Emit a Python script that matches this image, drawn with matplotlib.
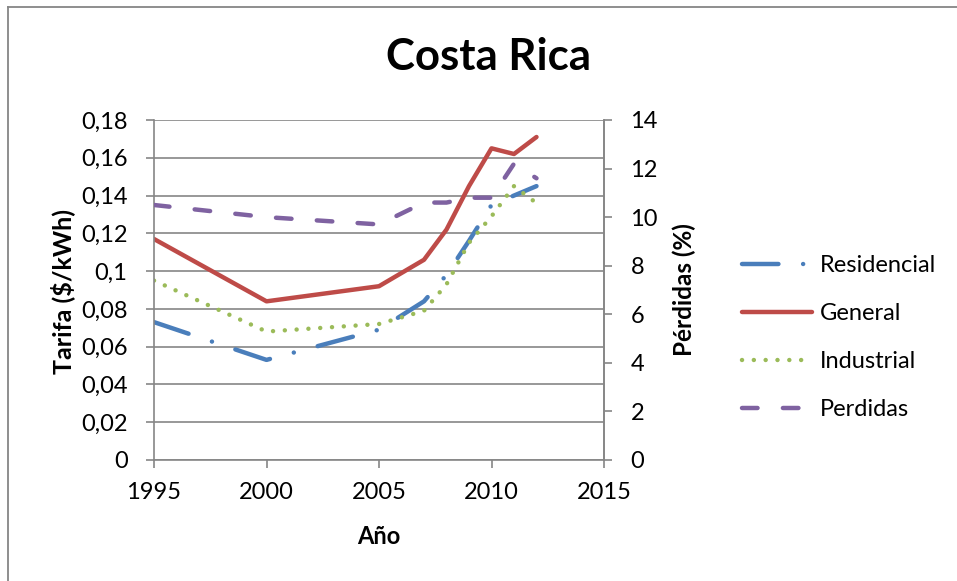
import matplotlib
matplotlib.use("Agg")
import matplotlib.pyplot as plt
from matplotlib.lines import Line2D

# Electricity tariffs ($/kWh) and grid losses (%) for Costa Rica
years = [1995, 2000, 2005, 2007, 2008, 2009, 2010, 2011, 2012]
residencial = [0.073, 0.053, 0.069, 0.084, 0.098, 0.116, 0.135, 0.140, 0.145]
general = [0.117, 0.084, 0.092, 0.106, 0.122, 0.145, 0.165, 0.162, 0.171]
industrial = [0.095, 0.068, 0.072, 0.079, 0.093, 0.115, 0.129, 0.145, 0.136]
perdidas = [10.5, 10.0, 9.7, 10.6, 10.6, 10.8, 10.8, 12.2, 11.6]

x_ticks = [1995, 2000, 2005, 2010, 2015]
tarifa_ticks = [0, 0.02, 0.04, 0.06, 0.08, 0.10, 0.12, 0.14, 0.16, 0.18]
tarifa_labels = ["0", "0,02", "0,04", "0,06", "0,08", "0,1", "0,12", "0,14", "0,16", "0,18"]
perdidas_ticks = [0, 2, 4, 6, 8, 10, 12, 14]

plt.rcParams['font.family'] = ['Lato', 'DejaVu Sans']

W, H = 957, 581
fig = plt.figure(figsize=(W / 100, H / 100), dpi=100)


def fx(px):
    return px / W


def fy(py):
    return 1 - py / H


GRAY = "#868686"
BLUE = "#4A7EBB"
RED = "#BE4B48"
GREEN = "#9BBB59"
PURPLE = "#7F62A1"
LW = 3.2
FS = 17

# outer chart frame
fig.add_artist(Line2D([fx(8), fx(8)], [fy(7), 0], color=GRAY, lw=1.3))
fig.add_artist(Line2D([fx(8), 1], [fy(7), fy(7)], color=GRAY, lw=1.3))

ax = fig.add_axes([fx(154), fy(460), fx(604) - fx(154), fy(120) - fy(460)])
ax2 = ax.twinx()

ax.set_xlim(1995, 2015)
ax.set_ylim(0, 0.18)
ax2.set_ylim(0, 14)

ax.set_xticks(x_ticks)
ax.set_xticklabels([str(v) for v in x_ticks])
ax.set_yticks(tarifa_ticks)
ax.set_yticklabels(tarifa_labels)
ax2.set_yticks(perdidas_ticks)
ax2.set_yticklabels([str(v) for v in perdidas_ticks])

ax.yaxis.grid(True, color=GRAY, lw=1.2)
ax.set_axisbelow(True)

for a in (ax, ax2):
    a.spines['top'].set_visible(False)
    for s in ('left', 'right', 'bottom'):
        a.spines[s].set_color(GRAY)
        a.spines[s].set_linewidth(1.2)
ax2.spines['left'].set_visible(False)
ax2.spines['bottom'].set_visible(False)

ax.tick_params(axis='y', direction='out', length=6, width=1.2, color=GRAY,
               labelsize=FS, pad=13)
ax.tick_params(axis='x', direction='out', length=6, width=1.2, color=GRAY,
               labelsize=FS, pad=10)
ax2.tick_params(axis='y', direction='out', length=6, width=1.2, color=GRAY,
                labelsize=FS, pad=13)

h1, = ax.plot(years, residencial, color=BLUE, lw=LW, label="Residencial",
              dashes=(8.2, 5.55, 0.01, 5.55), dash_capstyle='round',
              solid_joinstyle='round', dash_joinstyle='round')
h2, = ax.plot(years, general, color=RED, lw=LW, label="General",
              solid_capstyle='round', solid_joinstyle='round')
h3, = ax.plot(years, industrial, color=GREEN, lw=LW, label="Industrial",
              dashes=(0.01, 2.65), dash_capstyle='round', dash_joinstyle='round')
h4, = ax2.plot(years, perdidas, color=PURPLE, lw=LW, label="Perdidas",
               dashes=(3.5, 5.7), dash_capstyle='round', dash_joinstyle='round')

fig.text(fx(489), fy(57), "Costa Rica", ha='center', va='center',
         fontsize=31.5, fontweight='bold')
fig.text(fx(379), fy(536), "Año", ha='center', va='center',
         fontsize=17, fontweight='bold')
fig.text(fx(63), fy(291), "Tarifa ($/kWh)", ha='center', va='center',
         rotation=90, fontsize=18, fontweight='bold')
fig.text(fx(684), fy(290), "Pérdidas (%)", ha='center', va='center',
         rotation=90, fontsize=17.5, fontweight='bold')

leg = fig.legend(handles=[h1, h2, h3, h4], loc='center left',
                 bbox_to_anchor=(fx(742), fy(337.5)), frameon=False,
                 fontsize=FS, handlelength=2.97, handletextpad=0.34,
                 labelspacing=1.15, borderpad=0, borderaxespad=0)

fig.savefig("out.png", dpi=100)
